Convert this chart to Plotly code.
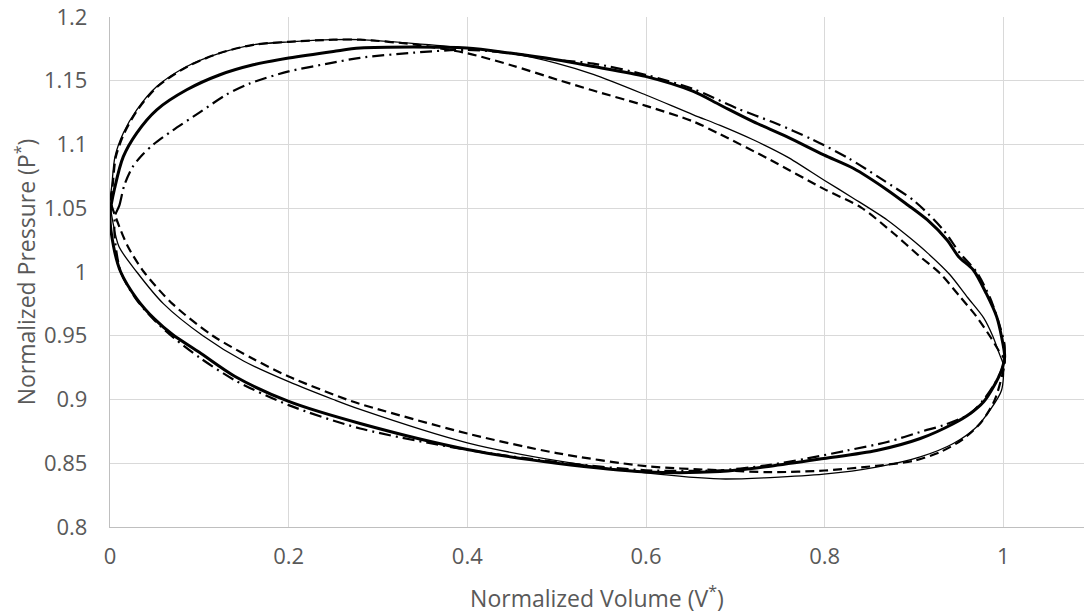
import plotly.graph_objects as go

# four measured P-V loops, read off the reference (normalized volume / pressure)
# each loop goes: left tip -> upper branch -> right tip -> lower branch -> back
thick_v = [0.0, 0.0056, 0.0149, 0.0299, 0.0523, 0.0859, 0.1231, 0.1604, 0.2, 0.25, 0.28, 0.3993,
           0.4478, 0.4993, 0.541, 0.5993, 0.653, 0.683, 0.72, 0.7575, 0.799, 0.832, 0.87, 0.893,
           0.915, 0.937, 0.95, 0.9664, 0.981, 0.9925, 0.998, 1.0015,
           0.998, 0.989, 0.978, 0.963, 0.944, 0.907, 0.858, 0.799, 0.739, 0.683, 0.6, 0.5, 0.4,
           0.28, 0.2, 0.14, 0.1, 0.07, 0.05, 0.03, 0.012, 0.004, 0.0]
thick_p = [1.045, 1.067, 1.0905, 1.109, 1.1272, 1.1429, 1.1547, 1.1625, 1.1678, 1.173, 1.1757, 1.1757,
           1.1717, 1.1665, 1.1612, 1.1534, 1.1416, 1.131, 1.118, 1.1062, 1.0919, 1.0814, 1.0644, 1.0526,
           1.0408, 1.0251, 1.012, 1.0016, 0.983, 0.965, 0.9492, 0.9335,
           0.923, 0.91, 0.8982, 0.889, 0.881, 0.8694, 0.86, 0.8537, 0.8477, 0.8435, 0.8432, 0.85, 0.8608,
           0.8812, 0.8985, 0.918, 0.937, 0.951, 0.963, 0.979, 1.0, 1.02, 1.045]

thin_v = [0.0, 0.0019, 0.0056, 0.0149, 0.0299, 0.0523, 0.0859, 0.1231, 0.1604, 0.2, 0.25, 0.28,
          0.3993, 0.4478, 0.4993, 0.541, 0.5993, 0.653, 0.683, 0.72, 0.7575, 0.799, 0.832, 0.87,
          0.895, 0.915, 0.94, 0.96, 0.978, 0.988, 0.996, 1.0,
          0.998, 0.985, 0.97, 0.944, 0.907, 0.858, 0.799, 0.739, 0.683, 0.6, 0.5, 0.4, 0.28, 0.25,
          0.2, 0.15, 0.104, 0.06, 0.03, 0.01, 0.003, 0.0]
thin_p = [1.055, 1.067, 1.0905, 1.109, 1.1272, 1.1455, 1.1612, 1.1717, 1.1782, 1.1805, 1.1822, 1.1822,
          1.1757, 1.1717, 1.1639, 1.155, 1.139, 1.1233, 1.115, 1.1037, 1.0905, 1.0722, 1.0579, 1.0408,
          1.027, 1.015, 0.998, 0.98, 0.964, 0.95, 0.935, 0.927,
          0.9073, 0.8916, 0.8785, 0.8655, 0.855, 0.847, 0.8414, 0.8388, 0.8377, 0.8424, 0.852, 0.866,
          0.8922, 0.9, 0.914, 0.93, 0.95, 0.975, 1.0, 1.02, 1.04, 1.055]

dash_v = [0.001, 0.0029, 0.0066, 0.016, 0.031, 0.0533, 0.0869, 0.1231, 0.1604, 0.2, 0.25, 0.28,
          0.34, 0.4, 0.45, 0.5, 0.54, 0.6, 0.653, 0.683, 0.739, 0.799, 0.841, 0.877,
          0.906, 0.929, 0.9515, 0.97, 0.9854, 0.9944, 1.0015,
          0.999, 0.99, 0.975, 0.955, 0.93, 0.9, 0.858, 0.8, 0.74, 0.683, 0.6, 0.5, 0.4, 0.28, 0.265,
          0.2, 0.16, 0.115, 0.07, 0.038, 0.02, 0.008, 0.001]
dash_p = [1.055, 1.067, 1.0905, 1.109, 1.1272, 1.1455, 1.1612, 1.1717, 1.1782, 1.1805, 1.1822, 1.1822,
          1.1785, 1.1715, 1.162, 1.151, 1.1425, 1.1303, 1.118, 1.108, 1.088, 1.0652, 1.0505, 1.0304,
          1.0125, 0.999, 0.9806, 0.965, 0.9492, 0.9388, 0.9310,
          0.92, 0.899, 0.882, 0.869, 0.859, 0.852, 0.848, 0.8443, 0.843, 0.8445, 0.8477, 0.858, 0.8733,
          0.8965, 0.9, 0.918, 0.932, 0.95, 0.975, 1.0, 1.02, 1.04, 1.055]

dashdot_v = [0.006, 0.0104, 0.016, 0.025, 0.035, 0.0485, 0.07, 0.1, 0.13, 0.157, 0.2, 0.2482,
             0.28, 0.34, 0.3993, 0.4478, 0.4993, 0.541, 0.5993, 0.653, 0.7015, 0.7444, 0.7855, 0.8265,
             0.8638, 0.9011, 0.9328, 0.9515, 0.97, 0.985, 0.995, 1.0015,
             0.999, 0.99, 0.978, 0.963, 0.933, 0.911, 0.87, 0.825, 0.78, 0.733, 0.683, 0.6, 0.5, 0.4,
             0.28, 0.2, 0.14, 0.1, 0.072, 0.05, 0.03, 0.012, 0.005, 0.006]
dashdot_p = [1.045, 1.052, 1.068, 1.082, 1.091, 1.1, 1.111, 1.125, 1.139, 1.148, 1.1573, 1.164,
             1.168, 1.172, 1.1743, 1.1717, 1.1665, 1.1635, 1.1547, 1.1435, 1.1285, 1.1168, 1.1042, 1.0893,
             1.0728, 1.0552, 1.033, 1.0147, 1.0, 0.98, 0.96, 0.942,
             0.925, 0.912, 0.9, 0.889, 0.8798, 0.8754, 0.8667, 0.86, 0.8537, 0.8482, 0.8445, 0.8445,
             0.851, 0.8605, 0.8773, 0.8956, 0.915, 0.933, 0.948, 0.962, 0.978, 1.0, 1.03, 1.045]

loops = [
    (thick_v, thick_p, dict(width=3, dash='solid')),
    (thin_v, thin_p, dict(width=1.3, dash='solid')),
    (dash_v, dash_p, dict(width=2.2, dash='9px,5px')),
    (dashdot_v, dashdot_p, dict(width=2.2, dash='12px,5px,2px,5px')),
]

fig = go.Figure()
for v, p, style in loops:
    fig.add_trace(go.Scatter(
        x=v, y=p, mode='lines',
        line=dict(color='black', shape='spline', smoothing=0.8, **style),
        showlegend=False, hoverinfo='skip'
    ))

font = dict(family='Open Sans', size=22, color='#595959')

fig.update_layout(
    width=1084, height=616,
    margin=dict(l=110, r=0, t=17, b=89),
    plot_bgcolor='white', paper_bgcolor='white',
    font=font,
    xaxis=dict(
        range=[0, 1.0903], dtick=0.2, tick0=0,
        showgrid=True, gridcolor='#d9d9d9', gridwidth=1.3,
        showline=True, linecolor='#bfbfbf', linewidth=1.3,
        zeroline=False, ticks='', ticklabelstandoff=9, automargin=False,
        ticklabeloverflow='allow',
        title=dict(text='Normalized Volume (V<sup>*</sup>)', standoff=22,
                   font=dict(size=23)),
    ),
    yaxis=dict(
        range=[0.8, 1.2], dtick=0.05, tick0=0.8,
        showgrid=True, gridcolor='#d9d9d9', gridwidth=1.3,
        showline=True, linecolor='#bfbfbf', linewidth=1.3,
        zeroline=False, ticks='', ticklabelstandoff=17, automargin=False,
        ticklabeloverflow='allow',
        title=dict(text='Normalized Pressure (P<sup>*</sup>)', standoff=1,
                   font=dict(size=23)),
    ),
)

# drop the page's default 8px body margin so the figure fills the window
fig.write_html("out.html", config={'displayModeBar': False},
               post_script="document.body.style.margin = '0';")
